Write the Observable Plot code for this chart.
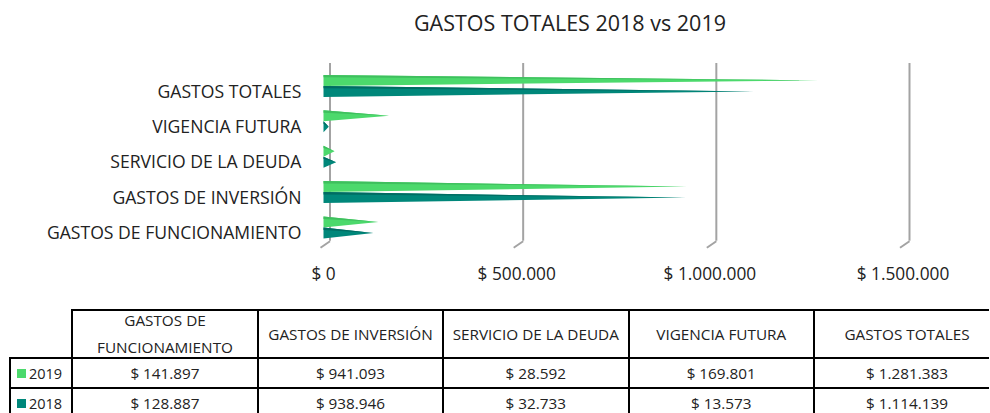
<!DOCTYPE html>
<html>
<head>
<meta charset="utf-8">
<script src="https://cdn.jsdelivr.net/npm/d3@7"></script>
<script src="https://cdn.jsdelivr.net/npm/@observablehq/plot@0.6"></script>
<style>
  html, body { margin: 0; padding: 0; background: #fff; }
  #wrap { position: relative; width: 990px; height: 413px; overflow: hidden; font-family: "Open Sans", sans-serif; color: #222; }
  #title { position: absolute; top: 11px; left: 570px; transform: translateX(-50%); white-space: nowrap; font-size: 21.5px; line-height: 24px; color: #222; }
  #chart { position: absolute; top: 0; left: 0; }
  .hl { position: absolute; height: 2px; background: #000; }
  .vl { position: absolute; width: 2px; background: #000; }
  .cell { position: absolute; display: flex; align-items: center; justify-content: center; text-align: center; font-size: 15.3px; color: #222; }
  .hdr { line-height: 27px; padding: 0 4px; box-sizing: border-box; }
  .rowlab { justify-content: flex-start; font-size: 14.5px; }
  .sw { display: inline-block; width: 9px; height: 9px; margin: 0 3px 0 7px; }
</style>
</head>
<body>
<div id="wrap">
  <div id="chart"></div>
  <div id="title"></div>
  <div id="table"></div>
</div>
<script>
// ---- data ----
const chartTitle = "GASTOS TOTALES 2018 vs 2019";
const categories = ["GASTOS DE FUNCIONAMIENTO", "GASTOS DE INVERSIÓN", "SERVICIO DE LA DEUDA", "VIGENCIA FUTURA", "GASTOS TOTALES"];
const values2019 = [141897, 941093, 28592, 169801, 1281383];
const values2018 = [128887, 938946, 32733, 13573, 1114139];
const seriesNames = ["2019", "2018"];
const seriesColors = ["#4CD96C", "#00877A"];
const shadeColors = ["#3FBF5E", "#006C62"];
const tickValues = [0, 500000, 1000000, 1500000];

// ---- formatting ----
const locale = d3.formatLocale({decimal: ",", thousands: ".", grouping: [3], currency: ["$ ", ""]});
const fmt = locale.format("$,");

document.getElementById("title").textContent = chartTitle;

// ---- layout constants (pixels) ----
const xRange = [323, 902.5];
const yRange = [227, 85.4];
const yPx = (yRange[0] - yRange[1]) / (categories.length - 1);
const toY = px => (yRange[0] - px) / yPx;
const xPerPx = (tickValues[tickValues.length - 1]) / (xRange[1] - xRange[0]);
const H = 11 / yPx;

// ---- cone polygons built from the values ----
const series = [values2019, values2018];
const bodies = [[], []];
const shades = [[], []];
categories.forEach((c, i) => {
  series.forEach((vals, k) => {
    const v = vals[i];
    const top = k === 0 ? i + H : i;
    const bot = k === 0 ? i : i - H;
    const mid = (top + bot) / 2;
    const id = c + seriesNames[k];
    bodies[k].push({id, x: 0, y: top}, {id, x: v, y: mid}, {id, x: 0, y: bot});
    shades[k].push({id, x: 0, y: top}, {id, x: v, y: mid}, {id, x: 0, y: top - 0.22 * (top - bot)});
  });
});

const gridTop = toY(63);
const gridBottom = toY(240.7);
const floorFront = toY(247.3);
const tickY = toY(274);

const plot = Plot.plot({
  width: 990,
  height: 300,
  x: {domain: [0, tickValues[tickValues.length - 1]], range: xRange, axis: null},
  y: {domain: [0, categories.length - 1], range: yRange, axis: null},
  style: {fontFamily: "Open Sans, sans-serif", background: "transparent", overflow: "visible"},
  marks: [
    Plot.ruleX(tickValues, {x: d => d, y1: gridTop, y2: gridBottom, dx: 6.5, stroke: "#A3A3A3", strokeWidth: 2}),
    Plot.link(tickValues, {x1: d => d + 6.5 * xPerPx, y1: gridBottom, x2: d => d - 3 * xPerPx, y2: floorFront, stroke: "#A3A3A3", strokeWidth: 2}),
    ...[0, 1].flatMap(k => [
      Plot.line(bodies[k], {x: "x", y: "y", z: "id", fill: seriesColors[k], stroke: "none"}),
      Plot.line(shades[k], {x: "x", y: "y", z: "id", fill: shadeColors[k], stroke: "none"})
    ]),
    Plot.text(categories, {x: 0, y: (d, i) => i, text: d => d, textAnchor: "end", dx: -22, dy: 6, fontSize: 17.6, fill: "#222"}),
    Plot.text(tickValues, {x: d => d, y: tickY, text: d => fmt(d), fontSize: 17.3, fill: "#222"})
  ]
});
document.getElementById("chart").appendChild(plot);

// ---- data table ----
const tbl = document.getElementById("table");
const colX = [10, 72, 258, 443, 628.5, 814, 1000];
const rowY = [310, 358, 388, 418];
function add(cls, style, html) {
  const d = document.createElement("div");
  d.className = cls;
  Object.assign(d.style, style);
  if (html !== undefined) d.textContent = html;
  tbl.appendChild(d);
  return d;
}
add("hl", {left: (colX[1] - 1) + "px", top: (rowY[0] - 1) + "px", width: (990 - colX[1]) + "px"});
for (let r = 1; r < rowY.length; r++) add("hl", {left: (colX[0] - 1) + "px", top: (rowY[r] - 1) + "px", width: (990 - colX[0]) + "px"});
add("vl", {left: (colX[0] - 1) + "px", top: (rowY[1] - 1) + "px", height: (rowY[3] - rowY[1]) + "px"});
for (let c = 1; c < colX.length; c++) add("vl", {left: (colX[c] - 1) + "px", top: (rowY[0] - 1) + "px", height: (rowY[3] - rowY[0]) + "px"});
categories.forEach((c, i) => {
  add("cell hdr", {left: colX[i + 1] + "px", top: rowY[0] + "px", width: (colX[i + 2] - colX[i + 1]) + "px", height: (rowY[1] - rowY[0]) + "px"}, c);
});
series.forEach((vals, k) => {
  const lab = add("cell rowlab", {left: colX[0] + "px", top: rowY[k + 1] + "px", width: (colX[1] - colX[0]) + "px", height: (rowY[k + 2] - rowY[k + 1]) + "px"});
  const sw = document.createElement("span");
  sw.className = "sw";
  sw.style.background = seriesColors[k];
  lab.appendChild(sw);
  lab.appendChild(document.createTextNode(seriesNames[k]));
  vals.forEach((v, i) => {
    add("cell", {left: colX[i + 1] + "px", top: rowY[k + 1] + "px", width: (colX[i + 2] - colX[i + 1]) + "px", height: (rowY[k + 2] - rowY[k + 1]) + "px"}, fmt(v));
  });
});
</script>
</body>
</html>
